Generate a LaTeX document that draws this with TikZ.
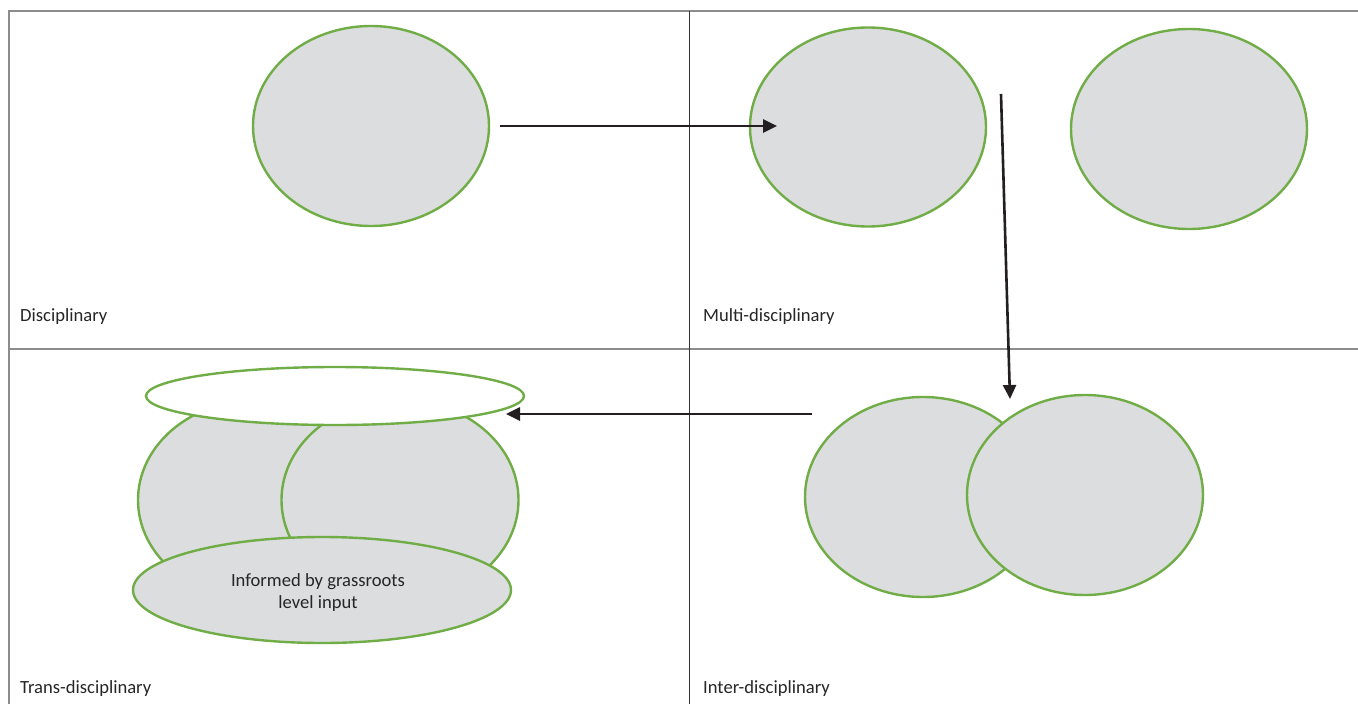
\documentclass[tikz,border=0pt]{standalone}
\usepackage{fontspec}
\setmainfont{Carlito}
\usetikzlibrary{arrows.meta,shapes.geometric}
\definecolor{ellfill}{HTML}{DCDDDE}
\definecolor{ellline}{HTML}{70AD47}
\definecolor{arr}{HTML}{231F20}
\begin{document}
\begin{tikzpicture}[x=1pt,y=-1pt,
  ell/.style={shape=ellipse,draw=ellline,line width=2.4pt,fill=ellfill,inner sep=0pt,minimum width=236pt,minimum height=200pt},
  conn/.style={draw=arr,line width=2.6pt,-{Triangle[length=14pt,width=13pt]}},
  lab/.style={anchor=west,inner sep=0pt,font=\fontsize{18.6}{22}\selectfont,text=black!85}]
\useasboundingbox (0,0) rectangle (1358,704);
% grid
\draw[gray!90,line width=1.5pt] (9,704) -- (9,11) -- (1358,11);
\draw[gray!90,line width=1.3pt] (9,349) -- (1358,349);
\draw[black!80,line width=1pt] (689,11) -- (689,704);
% Disciplinary
\node[ell] (disc) at (371,126) {};
% Multi
\node[ell,minimum height=199pt] (m1) at (868,127) {};
\node[ell] (m2) at (1189,129) {};
% Inter
\node[ell] (i1) at (923,497) {};
\node[ell] (i2) at (1085,495) {};
% Trans
\node[ell,minimum width=238pt] (t1) at (257,500) {};
\node[ell,minimum width=237pt] (t2) at (400,500) {};
\node[ell,fill=white,minimum width=378pt,minimum height=58pt] (ttop) at (335,396) {};
\node[ell,minimum width=378pt,minimum height=106pt] (tbot) at (322,590) {};
\node[align=center,font=\fontsize{18.6}{22}\selectfont,text=black!85] (grass) at (318,593) {Informed by grassroots\\level input};
% arrows
\coordinate (a1s) at (500,126); \coordinate (a1e) at (777,126);
\coordinate (a2s) at (1001,94); \coordinate (a2e) at (1010,399);
\coordinate (a3s) at (812,414); \coordinate (a3e) at (506,414);
\draw[conn] (a1s) -- (a1e);
\draw[conn] (a2s) -- (a2e);
\draw[conn] (a3s) -- (a3e);
% labels
\node[lab] (l1) at (20,317) {Disciplinary};
\node[lab] (l2) at (703,317) {Multi-disciplinary};
\node[lab] (l3) at (20,689) {Trans-disciplinary};
\node[lab] (l4) at (703,689) {Inter-disciplinary};
\end{tikzpicture}
\end{document}
